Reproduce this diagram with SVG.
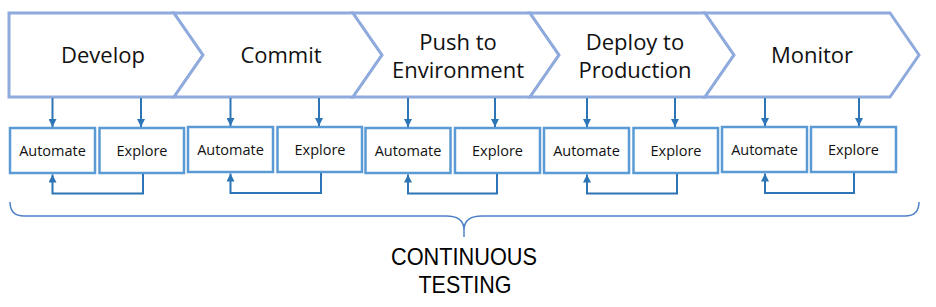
<svg xmlns="http://www.w3.org/2000/svg" width="936" height="307" viewBox="0 0 936 307">
<style>
.chev{fill:#fff;stroke:#8FAADC;stroke-width:3;stroke-linejoin:miter}
.lbl{font-family:"Open Sans","Noto Sans",sans-serif;font-size:22px;fill:#111;text-anchor:middle}
.box{fill:#fff;stroke:#5B9BD5;stroke-width:2.5}
.bl{font-family:"Open Sans","Noto Sans",sans-serif;font-size:14.5px;fill:#111;text-anchor:middle}
.ar{fill:none;stroke:#2E75B6;stroke-width:2}
.brace{fill:none;stroke:#4F81C7;stroke-width:1.5}
.ct{font-family:"Liberation Sans",Arial,sans-serif;font-size:24px;fill:#000;text-anchor:middle}
</style>
<defs>
<marker id="ah" markerWidth="8" markerHeight="8" viewBox="0 0 8 8" refX="8" refY="4" orient="auto" markerUnits="userSpaceOnUse">
<path d="M0,0 L8,4 L0,8 Z" fill="#2E75B6"/>
</marker>
</defs>
<g id="stage-develop">
<polygon class="chev" points="9,13 174,13 203,55 174,97 9,97"/>
<text class="lbl" x="103" y="63">Develop</text>
</g>
<g id="stage-commit">
<polygon class="chev" points="174,13 353,13 382,55 353,97 174,97 203,55"/>
<text class="lbl" x="281" y="63">Commit</text>
</g>
<g id="stage-push">
<polygon class="chev" points="353,13 530,13 559,55 530,97 353,97 382,55"/>
<text class="lbl" x="458" y="50">Push to</text>
<text class="lbl" x="458" y="78">Environment</text>
</g>
<g id="stage-deploy">
<polygon class="chev" points="530,13 705,13 734,55 705,97 530,97 559,55"/>
<text class="lbl" x="635" y="50">Deploy to</text>
<text class="lbl" x="635" y="78">Production</text>
</g>
<g id="stage-monitor">
<polygon class="chev" points="705,13 890,13 919,55 890,97 705,97 734,55"/>
<text class="lbl" x="812" y="63">Monitor</text>
</g>

<g id="develop-automate"><rect class="box" x="10" y="128" width="85" height="45"/><text class="bl" x="52.5" y="156">Automate</text></g>
<g id="develop-explore"><rect class="box" x="99.5" y="128" width="84.5" height="45"/><text class="bl" x="142" y="156">Explore</text></g>
<g id="commit-automate"><rect class="box" x="188" y="127" width="85" height="45"/><text class="bl" x="230.5" y="155">Automate</text></g>
<g id="commit-explore"><rect class="box" x="277.5" y="127" width="84.5" height="45"/><text class="bl" x="320" y="155">Explore</text></g>
<g id="push-automate"><rect class="box" x="365.5" y="128" width="85" height="45"/><text class="bl" x="408" y="156">Automate</text></g>
<g id="push-explore"><rect class="box" x="455" y="128" width="85" height="45"/><text class="bl" x="497.5" y="156">Explore</text></g>
<g id="deploy-automate"><rect class="box" x="544" y="128" width="85" height="45"/><text class="bl" x="586.5" y="156">Automate</text></g>
<g id="deploy-explore"><rect class="box" x="633.5" y="128" width="84.5" height="45"/><text class="bl" x="676" y="156">Explore</text></g>
<g id="monitor-automate"><rect class="box" x="722" y="127" width="85" height="45"/><text class="bl" x="764.5" y="155">Automate</text></g>
<g id="monitor-explore"><rect class="box" x="811" y="127" width="85" height="45"/><text class="bl" x="853.5" y="155">Explore</text></g>

<g id="connectors">
<path class="ar" d="M52.5,98 V127" marker-end="url(#ah)"/>
<path class="ar" d="M141,98 V127" marker-end="url(#ah)"/>
<path class="ar" d="M143,174 V193.5 H52.5 V174.5" marker-end="url(#ah)"/>
<path class="ar" d="M230.5,98 V126" marker-end="url(#ah)"/>
<path class="ar" d="M319,98 V126" marker-end="url(#ah)"/>
<path class="ar" d="M321,173 V193 H230.5 V173.5" marker-end="url(#ah)"/>
<path class="ar" d="M408,98 V127" marker-end="url(#ah)"/>
<path class="ar" d="M495,98 V127" marker-end="url(#ah)"/>
<path class="ar" d="M497,174 V193.5 H408 V174.5" marker-end="url(#ah)"/>
<path class="ar" d="M587,98 V127" marker-end="url(#ah)"/>
<path class="ar" d="M675,98 V127" marker-end="url(#ah)"/>
<path class="ar" d="M677,174 V193.5 H587 V174.5" marker-end="url(#ah)"/>
<path class="ar" d="M765,98 V126" marker-end="url(#ah)"/>
<path class="ar" d="M859,98 V126" marker-end="url(#ah)"/>
<path class="ar" d="M854,173 V193 H765 V173.5" marker-end="url(#ah)"/>
</g>

<g id="brace">
<path class="brace" d="M10,202 Q10,216 24,216 H446 Q464,216 464,230 V237 M464,230 Q464,216 482,216 H905 Q919,216 919,202"/>
</g>
<g id="label-continuous-testing">
<text class="ct" x="464" y="265" textLength="146" lengthAdjust="spacingAndGlyphs">CONTINUOUS</text>
<text class="ct" x="465" y="293" textLength="93" lengthAdjust="spacingAndGlyphs">TESTING</text>
</g>
</svg>
